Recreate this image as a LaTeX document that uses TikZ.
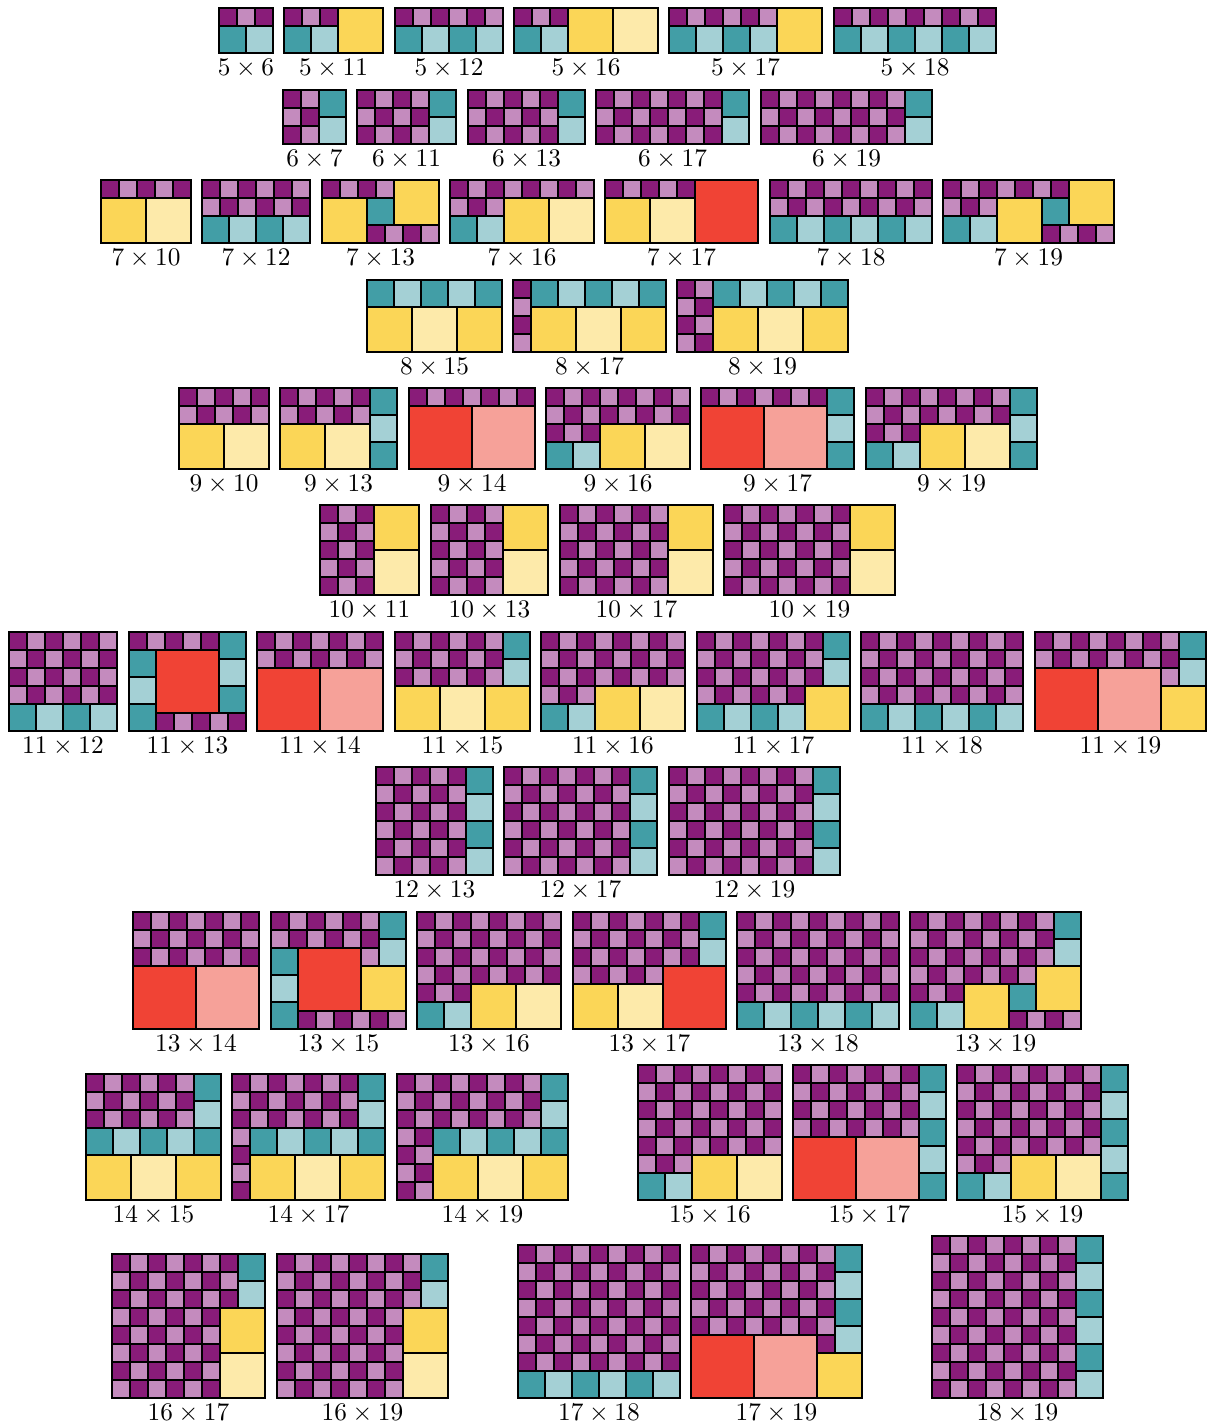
\documentclass[tikz,border=0pt]{standalone}
\usepackage{xcolor}
\definecolor{pur}{RGB}{137,28,121}
\definecolor{pnk}{RGB}{196,139,190}
\definecolor{tea}{RGB}{66,158,166}
\definecolor{ltea}{RGB}{164,208,213}
\definecolor{yel}{RGB}{251,214,87}
\definecolor{lyel}{RGB}{253,234,170}
\definecolor{sevn}{RGB}{240,67,53}
\definecolor{lsevn}{RGB}{246,161,153}

% one square: x, y (from top left), side, colour
\newcommand{\sq}[4]{\filldraw[fill=#4] (#1,#2) rectangle ++(#3,#3);}
% block of 2x2 squares: x, y, cols, rows, parity
\newcommand{\chk}[5]{%
  \foreach \i in {1,...,#3}{\foreach \j in {1,...,#4}{%
    \pgfmathtruncatemacro{\cpar}{mod(\i+\j+#5,2)}%
    \ifnum\cpar=0 \def\cc{pur}\else\def\cc{pnk}\fi
    \sq{#1+2*\i-2}{#2+2*\j-2}{2}{\cc}}}}
% strips of 3x3 squares
\newcommand{\trow}[3]{\foreach \i in {1,...,#3}{%
    \ifodd\i \def\cc{tea}\else\def\cc{ltea}\fi
    \sq{#1+3*\i-3}{#2}{3}{\cc}}}
\newcommand{\tcol}[3]{\foreach \i in {1,...,#3}{%
    \ifodd\i \def\cc{tea}\else\def\cc{ltea}\fi
    \sq{#1}{#2+3*\i-3}{3}{\cc}}}
% outline and label: width, height
\newcommand{\bord}[2]{\draw (0,0) rectangle (#1,#2);
  \node[lab] (l-#2-#1) at (#1/2,#2) {$#2\times#1$};}

\begin{document}
\begin{tikzpicture}[
  x=0.125cm, y=-0.125cm, line width=0.7pt,
  lab/.style={anchor=north, inner sep=2pt},
  px/.style 2 args={shift={(#1/9,#2/9)}},
]
\useasboundingbox (0,0) rectangle (1208/9,1427/9);

% 5 x n
\begin{scope}[px={219}{8}] \chk{0}{0}{3}{1}{0} \trow{0}{2}{2} \bord{6}{5} \end{scope}
\begin{scope}[px={284}{8}] \chk{0}{0}{3}{1}{0} \trow{0}{2}{2} \sq{6}{0}{5}{yel} \bord{11}{5} \end{scope}
\begin{scope}[px={395}{8}] \chk{0}{0}{6}{1}{0} \trow{0}{2}{4} \bord{12}{5} \end{scope}
\begin{scope}[px={514}{8}] \chk{0}{0}{3}{1}{0} \trow{0}{2}{2} \sq{6}{0}{5}{yel} \sq{11}{0}{5}{lyel} \bord{16}{5} \end{scope}
\begin{scope}[px={669}{8}] \chk{0}{0}{6}{1}{0} \trow{0}{2}{4} \sq{12}{0}{5}{yel} \bord{17}{5} \end{scope}
\begin{scope}[px={834}{8}] \chk{0}{0}{9}{1}{0} \trow{0}{2}{6} \bord{18}{5} \end{scope}

% 6 x n
\begin{scope}[px={283}{90}] \chk{0}{0}{2}{3}{0} \tcol{4}{0}{2} \bord{7}{6} \end{scope}
\begin{scope}[px={357}{90}] \chk{0}{0}{4}{3}{0} \tcol{8}{0}{2} \bord{11}{6} \end{scope}
\begin{scope}[px={468}{90}] \chk{0}{0}{5}{3}{0} \tcol{10}{0}{2} \bord{13}{6} \end{scope}
\begin{scope}[px={596}{90}] \chk{0}{0}{7}{3}{0} \tcol{14}{0}{2} \bord{17}{6} \end{scope}
\begin{scope}[px={761}{90}] \chk{0}{0}{8}{3}{0} \tcol{16}{0}{2} \bord{19}{6} \end{scope}

% 7 x n
\begin{scope}[px={101}{180}] \chk{0}{0}{5}{1}{0} \sq{0}{2}{5}{yel} \sq{5}{2}{5}{lyel} \bord{10}{7} \end{scope}
\begin{scope}[px={202}{180}] \chk{0}{0}{6}{2}{0} \trow{0}{4}{4} \bord{12}{7} \end{scope}
\begin{scope}[px={322}{180}] \chk{0}{0}{4}{1}{0} \sq{0}{2}{5}{yel} \sq{5}{2}{3}{tea} \sq{8}{0}{5}{yel} \chk{5}{5}{4}{1}{0} \bord{13}{7} \end{scope}
\begin{scope}[px={450}{180}] \chk{0}{0}{8}{1}{0} \chk{0}{2}{3}{1}{1} \trow{0}{4}{2} \sq{6}{2}{5}{yel} \sq{11}{2}{5}{lyel} \bord{16}{7} \end{scope}
\begin{scope}[px={605}{180}] \chk{0}{0}{5}{1}{0} \sq{0}{2}{5}{yel} \sq{5}{2}{5}{lyel} \sq{10}{0}{7}{sevn} \bord{17}{7} \end{scope}
\begin{scope}[px={770}{180}] \chk{0}{0}{9}{2}{0} \trow{0}{4}{6} \bord{18}{7} \end{scope}
\begin{scope}[px={943}{180}] \chk{0}{0}{7}{1}{0} \chk{0}{2}{3}{1}{1} \trow{0}{4}{2} \sq{6}{2}{5}{yel} \sq{11}{2}{3}{tea} \sq{14}{0}{5}{yel} \chk{11}{5}{4}{1}{0} \bord{19}{7} \end{scope}

% 8 x n
\begin{scope}[px={367}{280}] \trow{0}{0}{5} \sq{0}{3}{5}{yel} \sq{5}{3}{5}{lyel} \sq{10}{3}{5}{yel} \bord{15}{8} \end{scope}
\begin{scope}[px={513}{280}] \chk{0}{0}{1}{4}{0} \trow{2}{0}{5} \sq{2}{3}{5}{yel} \sq{7}{3}{5}{lyel} \sq{12}{3}{5}{yel} \bord{17}{8} \end{scope}
\begin{scope}[px={677}{280}] \chk{0}{0}{2}{4}{0} \trow{4}{0}{5} \sq{4}{3}{5}{yel} \sq{9}{3}{5}{lyel} \sq{14}{3}{5}{yel} \bord{19}{8} \end{scope}

% 9 x n
\begin{scope}[px={179}{388}] \chk{0}{0}{5}{2}{0} \sq{0}{4}{5}{yel} \sq{5}{4}{5}{lyel} \bord{10}{9} \end{scope}
\begin{scope}[px={280}{388}] \chk{0}{0}{5}{2}{0} \sq{0}{4}{5}{yel} \sq{5}{4}{5}{lyel} \tcol{10}{0}{3} \bord{13}{9} \end{scope}
\begin{scope}[px={409}{388}] \chk{0}{0}{7}{1}{0} \sq{0}{2}{7}{sevn} \sq{7}{2}{7}{lsevn} \bord{14}{9} \end{scope}
\begin{scope}[px={546}{388}] \chk{0}{0}{8}{2}{0} \chk{0}{4}{3}{1}{0} \trow{0}{6}{2} \sq{6}{4}{5}{yel} \sq{11}{4}{5}{lyel} \bord{16}{9} \end{scope}
\begin{scope}[px={701}{388}] \chk{0}{0}{7}{1}{0} \sq{0}{2}{7}{sevn} \sq{7}{2}{7}{lsevn} \tcol{14}{0}{3} \bord{17}{9} \end{scope}
\begin{scope}[px={866}{388}] \chk{0}{0}{8}{2}{0} \chk{0}{4}{3}{1}{0} \trow{0}{6}{2} \sq{6}{4}{5}{yel} \sq{11}{4}{5}{lyel} \tcol{16}{0}{3} \bord{19}{9} \end{scope}

% 10 x n
\begin{scope}[px={320}{505}] \chk{0}{0}{3}{5}{0} \sq{6}{0}{5}{yel} \sq{6}{5}{5}{lyel} \bord{11}{10} \end{scope}
\begin{scope}[px={431}{505}] \chk{0}{0}{4}{5}{0} \sq{8}{0}{5}{yel} \sq{8}{5}{5}{lyel} \bord{13}{10} \end{scope}
\begin{scope}[px={560}{505}] \chk{0}{0}{6}{5}{0} \sq{12}{0}{5}{yel} \sq{12}{5}{5}{lyel} \bord{17}{10} \end{scope}
\begin{scope}[px={724}{505}] \chk{0}{0}{7}{5}{0} \sq{14}{0}{5}{yel} \sq{14}{5}{5}{lyel} \bord{19}{10} \end{scope}

% 11 x n
\begin{scope}[px={9}{632}] \chk{0}{0}{6}{4}{0} \trow{0}{8}{4} \bord{12}{11} \end{scope}
\begin{scope}[px={129}{632}] \chk{0}{0}{5}{1}{0} \tcol{10}{0}{3} \tcol{0}{2}{3} \sq{3}{2}{7}{sevn} \chk{3}{9}{5}{1}{0} \bord{13}{11} \end{scope}
\begin{scope}[px={257}{632}] \chk{0}{0}{7}{2}{0} \sq{0}{4}{7}{sevn} \sq{7}{4}{7}{lsevn} \bord{14}{11} \end{scope}
\begin{scope}[px={395}{632}] \chk{0}{0}{6}{3}{0} \tcol{12}{0}{2} \sq{0}{6}{5}{yel} \sq{5}{6}{5}{lyel} \sq{10}{6}{5}{yel} \bord{15}{11} \end{scope}
\begin{scope}[px={541}{632}] \chk{0}{0}{8}{3}{0} \chk{0}{6}{3}{1}{1} \trow{0}{8}{2} \sq{6}{6}{5}{yel} \sq{11}{6}{5}{lyel} \bord{16}{11} \end{scope}
\begin{scope}[px={697}{632}] \chk{0}{0}{7}{3}{0} \chk{0}{6}{6}{1}{1} \tcol{14}{0}{2} \sq{12}{6}{5}{yel} \trow{0}{8}{4} \bord{17}{11} \end{scope}
\begin{scope}[px={861}{632}] \chk{0}{0}{9}{4}{0} \trow{0}{8}{6} \bord{18}{11} \end{scope}
\begin{scope}[px={1035}{632}] \chk{0}{0}{8}{2}{0} \tcol{16}{0}{2} \sq{0}{4}{7}{sevn} \sq{7}{4}{7}{lsevn} \chk{14}{4}{1}{1}{1} \sq{14}{6}{5}{yel} \bord{19}{11} \end{scope}

% 12 x n
\begin{scope}[px={376}{767}] \chk{0}{0}{5}{6}{0} \tcol{10}{0}{4} \bord{13}{12} \end{scope}
\begin{scope}[px={504}{767}] \chk{0}{0}{7}{6}{0} \tcol{14}{0}{4} \bord{17}{12} \end{scope}
\begin{scope}[px={669}{767}] \chk{0}{0}{8}{6}{0} \tcol{16}{0}{4} \bord{19}{12} \end{scope}

% 13 x n
\begin{scope}[px={133}{912}] \chk{0}{0}{7}{3}{0} \sq{0}{6}{7}{sevn} \sq{7}{6}{7}{lsevn} \bord{14}{13} \end{scope}
\begin{scope}[px={271}{912}] \chk{0}{0}{6}{2}{0} \tcol{12}{0}{2} \chk{10}{4}{1}{1}{1} \tcol{0}{4}{3} \sq{3}{4}{7}{sevn} \sq{10}{6}{5}{yel} \chk{3}{11}{6}{1}{0} \bord{15}{13} \end{scope}
\begin{scope}[px={417}{912}] \chk{0}{0}{8}{4}{0} \chk{0}{8}{3}{1}{0} \trow{0}{10}{2} \sq{6}{8}{5}{yel} \sq{11}{8}{5}{lyel} \bord{16}{13} \end{scope}
\begin{scope}[px={573}{912}] \chk{0}{0}{7}{3}{0} \tcol{14}{0}{2} \chk{0}{6}{5}{1}{1} \sq{10}{6}{7}{sevn} \sq{0}{8}{5}{yel} \sq{5}{8}{5}{lyel} \bord{17}{13} \end{scope}
\begin{scope}[px={737}{912}] \chk{0}{0}{9}{5}{0} \trow{0}{10}{6} \bord{18}{13} \end{scope}
\begin{scope}[px={910}{912}] \chk{0}{0}{8}{3}{0} \tcol{16}{0}{2} \chk{0}{6}{7}{1}{1} \sq{14}{6}{5}{yel} \chk{0}{8}{3}{1}{0} \sq{6}{8}{5}{yel} \sq{11}{8}{3}{tea} \trow{0}{10}{2} \chk{11}{11}{4}{1}{0} \bord{19}{13} \end{scope}

% 14 x n and 15 x n
\begin{scope}[px={86}{1074}] \chk{0}{0}{6}{3}{0} \tcol{12}{0}{2} \trow{0}{6}{5} \sq{0}{9}{5}{yel} \sq{5}{9}{5}{lyel} \sq{10}{9}{5}{yel} \bord{15}{14} \end{scope}
\begin{scope}[px={232}{1074}] \chk{0}{0}{7}{3}{0} \tcol{14}{0}{2} \chk{0}{6}{1}{4}{1} \trow{2}{6}{5} \sq{2}{9}{5}{yel} \sq{7}{9}{5}{lyel} \sq{12}{9}{5}{yel} \bord{17}{14} \end{scope}
\begin{scope}[px={397}{1074}] \chk{0}{0}{8}{3}{0} \tcol{16}{0}{2} \chk{0}{6}{2}{4}{1} \trow{4}{6}{5} \sq{4}{9}{5}{yel} \sq{9}{9}{5}{lyel} \sq{14}{9}{5}{yel} \bord{19}{14} \end{scope}
\begin{scope}[px={638}{1065}] \chk{0}{0}{8}{5}{0} \chk{0}{10}{3}{1}{1} \trow{0}{12}{2} \sq{6}{10}{5}{yel} \sq{11}{10}{5}{lyel} \bord{16}{15} \end{scope}
\begin{scope}[px={793}{1065}] \chk{0}{0}{7}{4}{0} \tcol{14}{0}{5} \sq{0}{8}{7}{sevn} \sq{7}{8}{7}{lsevn} \bord{17}{15} \end{scope}
\begin{scope}[px={957}{1065}] \chk{0}{0}{8}{5}{0} \tcol{16}{0}{5} \chk{0}{10}{3}{1}{1} \trow{0}{12}{2} \sq{6}{10}{5}{yel} \sq{11}{10}{5}{lyel} \bord{19}{15} \end{scope}

% 16 x n up to 18 x n
\begin{scope}[px={112}{1254}] \chk{0}{0}{7}{3}{0} \tcol{14}{0}{2} \chk{0}{6}{6}{5}{1} \sq{12}{6}{5}{yel} \sq{12}{11}{5}{lyel} \bord{17}{16} \end{scope}
\begin{scope}[px={277}{1254}] \chk{0}{0}{8}{3}{0} \tcol{16}{0}{2} \chk{0}{6}{7}{5}{1} \sq{14}{6}{5}{yel} \sq{14}{11}{5}{lyel} \bord{19}{16} \end{scope}
\begin{scope}[px={518}{1245}] \chk{0}{0}{9}{7}{0} \trow{0}{14}{6} \bord{18}{17} \end{scope}
\begin{scope}[px={691}{1245}] \chk{0}{0}{8}{5}{0} \tcol{16}{0}{4} \chk{14}{10}{1}{1}{0} \sq{0}{10}{7}{sevn} \sq{7}{10}{7}{lsevn} \sq{14}{12}{5}{yel} \bord{19}{17} \end{scope}
\begin{scope}[px={932}{1236}] \chk{0}{0}{8}{9}{0} \tcol{16}{0}{6} \bord{19}{18} \end{scope}

\end{tikzpicture}
\end{document}
